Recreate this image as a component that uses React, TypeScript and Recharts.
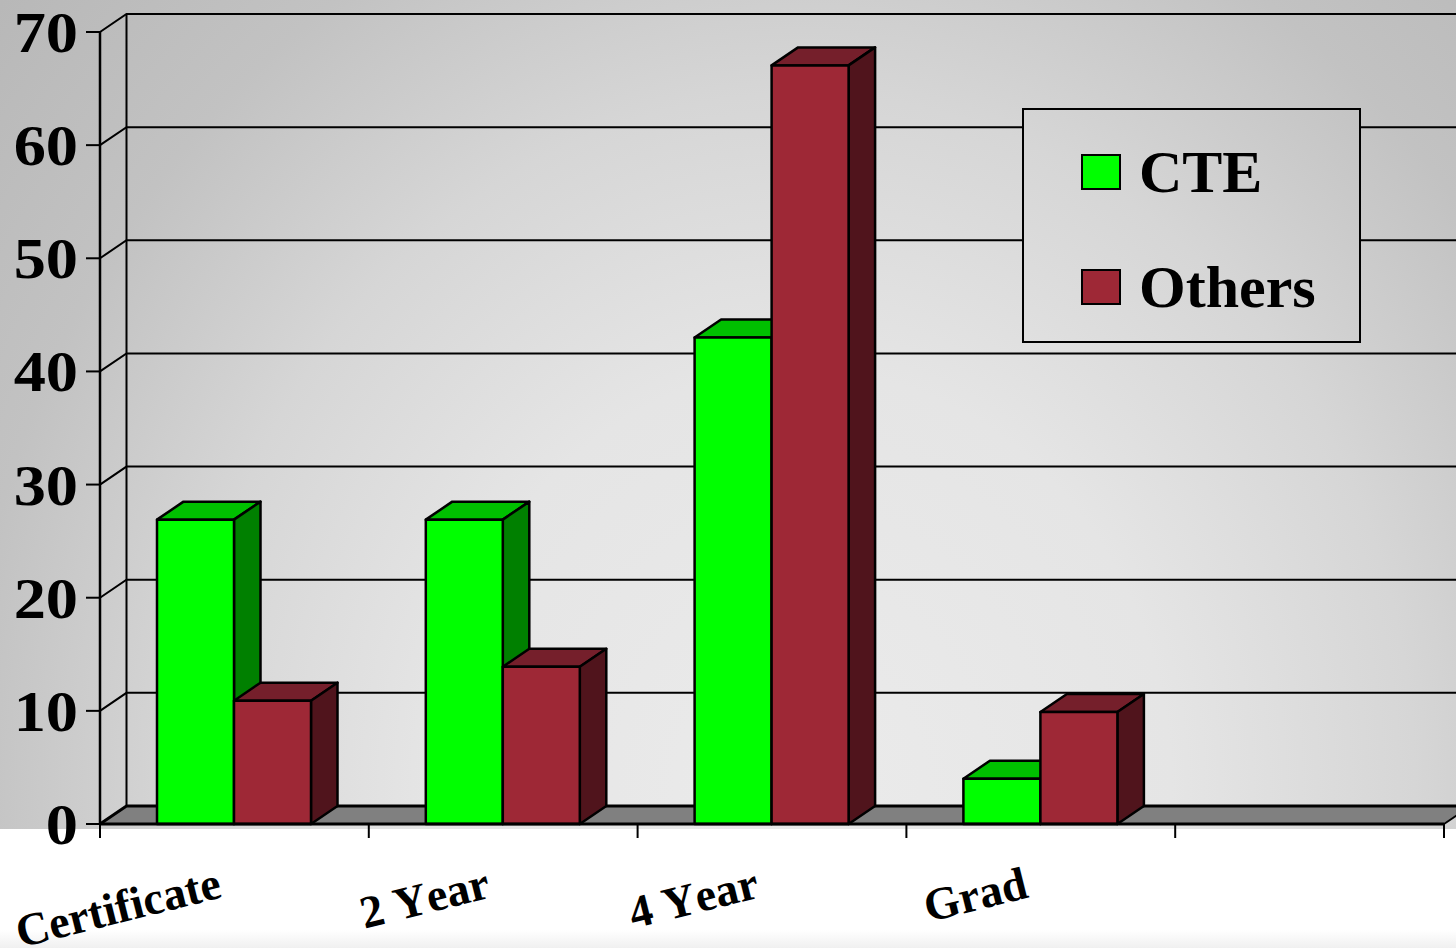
import { Bar, BarChart, CartesianGrid, Legend, XAxis, YAxis } from "recharts";

const categories = ["Certificate", "2 Year", "4 Year", "Grad", ""];
const cteValues = [26.9, 26.9, 43, 4, null];
const otherValues = [10.9, 13.9, 67.05, 9.9, null];
const yTicks = [0, 10, 20, 30, 40, 50, 60, 70];

const data = categories.map((name, i) => ({
  name,
  CTE: cteValues[i],
  Others: otherValues[i],
}));

const FONT = '"Liberation Serif", "Times New Roman", serif';
const DEPTH_X = 26.5;
const DEPTH_Y = 18;
const BAND = 268.8;
const WALL_BG =
  "radial-gradient(ellipse 1060px 1200px at 800px 790px, #ebebeb 0%, #e5e5e5 35%, #d6d6d6 58%, #c2c2c2 79%, #b8b8b8 100%)";

// front face + top + side, offset like the old 3d column look
const box3d = (face: string, top: string, side: string) => (props: any) => {
  const { x, y, width, height } = props;
  if (y == null || !height) return <g />;
  const r = x + width;
  const dx = DEPTH_X;
  const dy = DEPTH_Y;
  return (
    <g stroke="#000" strokeWidth={2.5} strokeLinejoin="round">
      <polygon
        points={`${x},${y} ${x + dx},${y - dy} ${r + dx},${y - dy} ${r},${y}`}
        fill={top}
      />
      <polygon
        points={`${r},${y} ${r + dx},${y - dy} ${r + dx},${y + height - dy} ${r},${y + height}`}
        fill={side}
      />
      <rect x={x} y={y} width={width} height={height} fill={face} />
    </g>
  );
};

// each grid line runs up the side wall and then along the back wall
const wallLine = (props: any) => {
  const { x1, y1, x2, y, height } = props;
  const backX = x1 + DEPTH_X;
  const backY = y1 - DEPTH_Y;
  const isFloor = Math.abs(y1 - (y + height)) < 1;
  const isTop = Math.abs(y1 - y) < 1;
  return (
    <g key={props.key}>
      {isFloor && (
        <polygon
          points={`${x1},${y1} ${backX},${backY} ${x2 + DEPTH_X},${backY} ${x2},${y1}`}
          fill="#808080"
          stroke="none"
        />
      )}
      {isTop && (
        <line x1={backX} y1={backY} x2={backX} y2={y + height - DEPTH_Y} stroke="#000" strokeWidth={2} />
      )}
      <polyline
        points={`${x1},${y1} ${backX},${backY} ${x2 + DEPTH_X},${backY}`}
        fill="none"
        stroke="#000"
        strokeWidth={isFloor ? 3 : 2}
      />
      {isFloor && (
        <line x1={x2} y1={y1} x2={x2 + DEPTH_X} y2={backY} stroke="#000" strokeWidth={2} />
      )}
    </g>
  );
};

// the source digits are a bit wider than plain bold serif
const ValueTick = (props: any) => {
  const { x, y, payload } = props;
  return (
    <text
      transform={`translate(${x} ${y + 20}) scale(1.11 1)`}
      textAnchor="end"
      fontFamily={FONT}
      fontWeight="bold"
      fontSize={58}
      fill="#000"
    >
      {payload.value}
    </text>
  );
};

const CategoryTick = (props: any) => {
  const { x, y, index, payload } = props;
  const left = x - BAND / 2;
  const right = x + BAND / 2;
  const tx = x - 11;
  const ty = y + 73;
  return (
    <g>
      <line x1={left} y1={y} x2={left} y2={y + 14} stroke="#000" strokeWidth={2} />
      {index === categories.length - 1 && (
        <line x1={right} y1={y} x2={right} y2={y + 14} stroke="#000" strokeWidth={2} />
      )}
      <text
        x={tx}
        y={ty}
        textAnchor="end"
        transform={`rotate(-14 ${tx} ${ty})`}
        fontFamily={FONT}
        fontWeight="bold"
        fontSize={46}
        fill="#000"
        style={{ fontKerning: "none" }}
      >
        {payload.value}
      </text>
    </g>
  );
};

const LegendBox = ({ payload }: any) => (
  <div
    style={{
      position: "relative",
      width: "100%",
      height: "100%",
      boxSizing: "border-box",
      border: "2px solid #000",
      background: WALL_BG,
      backgroundSize: "1456px 829px",
      backgroundPosition: "-1024px -110px",
      fontFamily: FONT,
      fontWeight: "bold",
      fontSize: 60,
      fontKerning: "none",
      color: "#000",
    }}
  >
    {(payload || []).map((entry: any, i: number) => (
      <div key={entry.value}>
        <span
          style={{
            position: "absolute",
            left: 57,
            top: 44 + i * 115,
            width: 40,
            height: 36,
            boxSizing: "border-box",
            border: "2px solid #000",
            background: entry.color,
          }}
        />
        <span
          style={{
            position: "absolute",
            left: 115,
            top: 28 + i * 115,
            lineHeight: "69px",
          }}
        >
          {entry.value}
        </span>
      </div>
    ))}
  </div>
);

export default function App() {
  return (
    <div style={{ position: "absolute", left: 0, top: 0, width: 1456, height: 948, background: "linear-gradient(#fff 0, #fff 930px, #f0f0f0 948px)" }}>
      <div style={{ position: "absolute", left: 0, top: 0, width: 1456, height: 829, background: WALL_BG }} />
      <div style={{ position: "absolute", left: 0, top: 0 }}>
        <BarChart
          width={1456}
          height={948}
          data={data}
          margin={{ top: 32, right: 12, bottom: 0, left: 0 }}
          barSize={77}
          barGap={0}
        >
          <CartesianGrid vertical={false} horizontal={wallLine} />
          <XAxis
            dataKey="name"
            height={124}
            interval={0}
            tickLine={false}
            tickSize={0}
            tickMargin={0}
            axisLine={{ stroke: "#000", strokeWidth: 3 }}
            tick={<CategoryTick />}
          />
          <YAxis
            width={100}
            domain={[0, 70]}
            ticks={yTicks}
            interval={0}
            tickSize={14}
            tickMargin={8}
            tickLine={{ stroke: "#000", strokeWidth: 2 }}
            axisLine={{ stroke: "#000", strokeWidth: 2.5 }}
            tick={<ValueTick />}
          />
          <Bar
            dataKey="CTE"
            name="CTE"
            fill="#00ff00"
            isAnimationActive={false}
            shape={box3d("#00ff00", "#00c000", "#008000")}
          />
          <Bar
            dataKey="Others"
            name="Others"
            fill="#9e2836"
            isAnimationActive={false}
            shape={box3d("#9e2836", "#751f2b", "#50141c")}
          />
          <Legend
            layout="vertical"
            align="center"
            verticalAlign="middle"
            content={<LegendBox />}
            wrapperStyle={{ left: 1022, top: 108, width: 339, height: 235, margin: 0 }}
          />
        </BarChart>
      </div>
    </div>
  );
}
